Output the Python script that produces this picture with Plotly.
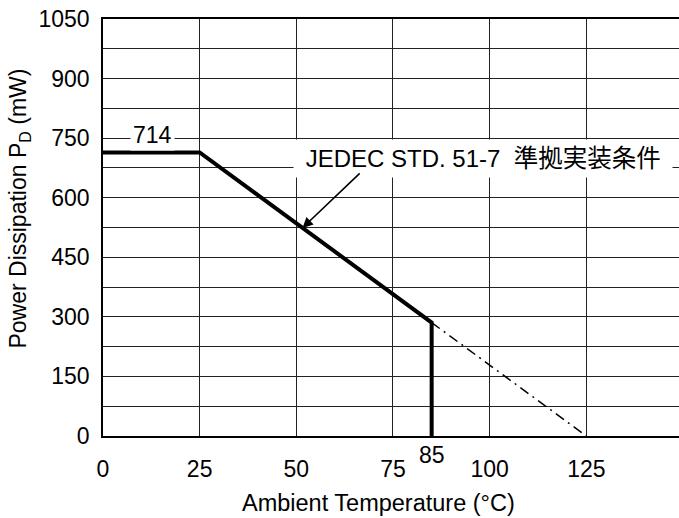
import plotly.graph_objects as go

# Data
temp_rated = [0, 25, 85, 85]
pd_rated = [714, 714, 285.6, 0]
temp_ext = [85, 125]
pd_ext = [285.6, 0]
x_ticks = [0, 25, 50, 75, 100, 125, 150]
y_ticks = [0, 150, 300, 450, 600, 750, 900, 1050]
label_max = "714"
label_cond = "JEDEC STD. 51-7\u00a0\u00a0<span style='font-size:24.5px'>準拠実装条件</span>"
label_85 = "85"

FONT = "Liberation Sans, Arial, Noto Sans CJK JP, sans-serif"
FS = 23

fig = go.Figure()
fig.add_trace(go.Scatter(x=temp_rated, y=pd_rated, mode="lines",
                         line=dict(color="black", width=4), showlegend=False,
                         hoverinfo="skip"))
fig.add_trace(go.Scatter(x=temp_ext, y=pd_ext, mode="lines",
                         line=dict(color="black", width=1.5, dash="10px,5px,2px,5px"),
                         showlegend=False, hoverinfo="skip"))

grid_col = "#222222"
fig.update_layout(
    width=679, height=518,
    margin=dict(l=103, r=0, t=19, b=82, autoexpand=False),
    paper_bgcolor="white", plot_bgcolor="white",
    font=dict(family=FONT, size=FS, color="black"),
    xaxis=dict(range=[0, 148.97], tickvals=x_ticks, ticktext=[str(v) for v in x_ticks],
               showgrid=True, gridcolor=grid_col, gridwidth=1.3,
               showline=True, linecolor="black", linewidth=1.5, mirror=True,
               ticks="", zeroline=False, ticklabelstandoff=12, automargin=False,
               tickfont=dict(family=FONT, size=FS)),
    yaxis=dict(range=[0, 1050], tickvals=y_ticks,
               showgrid=True, gridcolor=grid_col, gridwidth=1.3,
               minor=dict(dtick=75, tick0=0, showgrid=True, gridcolor=grid_col, gridwidth=1.3, ticks=""),
               showline=True, linecolor="black", linewidth=1.5, mirror=False,
               ticks="", zeroline=False, ticklabelstandoff=7, automargin=False,
               tickfont=dict(family=FONT, size=FS)),
)

fig.add_annotation(x=12.85, y=750, yshift=3, text=label_max, showarrow=False,
                   bgcolor="white", borderpad=2, font=dict(size=FS))
fig.add_annotation(x=98.4, y=698, text="\u00a0" + label_cond + "\u00a0", showarrow=False,
                   bgcolor="white", borderpad=5, font=dict(size=24))
fig.add_annotation(x=51.6, y=524, text="", showarrow=True, ax=58.7, ay=-56,
                   arrowhead=2, arrowsize=1.3, arrowwidth=1.6, arrowcolor="black")
fig.add_annotation(x=85, y=0, yref="y", yshift=-19, text=label_85, showarrow=False,
                   font=dict(size=FS))
fig.add_annotation(x=71.2, xref="x", y=-0.16, yref="paper", text="Ambient Temperature (°C)",
                   showarrow=False, yanchor="middle", font=dict(size=23.5))
fig.add_annotation(x=-0.1446, xref="paper", y=572, yref="y",
                   text="Power Dissipation P<sub>D</sub> (mW)", textangle=-90,
                   showarrow=False, xanchor="center", yanchor="middle", font=dict(size=FS))

fig.write_html("out.html", config={"displayModeBar": False},
               post_script="document.body.style.margin='0';document.body.style.overflow='hidden';")
